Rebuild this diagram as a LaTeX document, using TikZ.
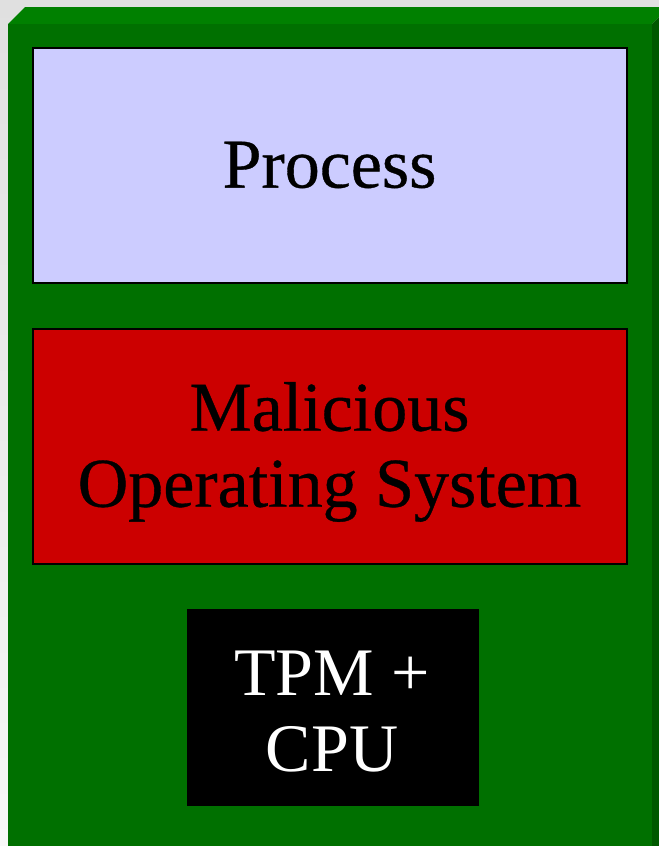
\documentclass[tikz,border=0pt]{standalone}
\usepackage{fontspec}
\usetikzlibrary{calc}
\setmainfont{Liberation Serif}
\newfontfamily\heavyserif[FakeBold=0.5]{Liberation Serif}
\begin{document}
\begin{tikzpicture}[x=0.75pt,y=-0.75pt,
  layer/.style={draw=black,line width=1.5pt,minimum width=594*0.75pt,minimum height=235*0.75pt,
    inner sep=0pt,align=center,font=\heavyserif\fontsize{52.5}{57}\selectfont},
  chip/.style={fill=black,text=white,minimum width=292*0.75pt,minimum height=197*0.75pt,
    inner sep=0pt,align=center,font=\fontsize{51}{56.5}\selectfont}]
\definecolor{bggray}{HTML}{E0E0E0}
\definecolor{bglight}{HTML}{F8F8F8}
\definecolor{boxtop}{HTML}{008000}
\definecolor{boxfront}{HTML}{007000}
\definecolor{boxside}{HTML}{005800}
\definecolor{procfill}{HTML}{CCCCFF}
\definecolor{osfill}{HTML}{CC0000}
\useasboundingbox (0,0) rectangle (659,846);
% backdrop
\fill[top color=bggray,bottom color=bglight] (0,0) rectangle (659,846);
\fill[bggray] (0,0) rectangle (659,7);
% the machine: an extruded box
\fill[boxtop] (8,24) -- (25,7) -- (659,7) -- (659,17) -- (652,24) -- cycle;
\fill[boxside] (652,24) -- (659,17) -- (659,846) -- (652,846) -- cycle;
\fill[boxfront] (8,24) rectangle (652,846);
% software and hardware layers
\node[layer,fill=procfill] (proc) at (329.5,165) {Process};
\node[layer,fill=osfill] (os) at (329.5,446) {};
\node[font=\heavyserif\fontsize{52.5}{57}\selectfont,align=center,inner sep=0pt]
  (ostext) at ($(os.center)+(0,6)$) {Malicious\\Operating System};
\node[chip] (tpm) at (333,707.5) {};
\node[text=white,font=\fontsize{51}{56.5}\selectfont,align=center,inner sep=0pt]
  (tpmtext) at ($(tpm.center)+(-1,4)$) {TPM +\\CPU};
\end{tikzpicture}
\end{document}
